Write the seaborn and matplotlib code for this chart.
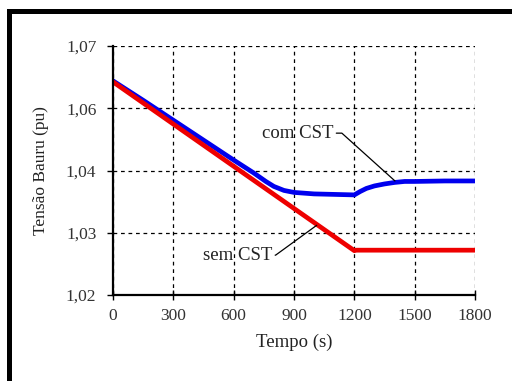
import numpy as np
import pandas as pd
import seaborn as sns
import matplotlib.pyplot as plt
from matplotlib.patches import Rectangle

# values
t_com = [0, 150, 300, 450, 600, 700, 760, 800, 850, 900, 1000, 1100, 1200,
         1230, 1260, 1300, 1350, 1400, 1450, 1500, 1650, 1800]
v_com = [1.0630, 1.0591, 1.0551, 1.0511, 1.0471, 1.0445, 1.0428, 1.0418, 1.0410,
         1.0406, 1.0403, 1.0402, 1.0401, 1.0408, 1.0414, 1.0419, 1.0423, 1.0426,
         1.0428, 1.0428, 1.0429, 1.0429]
t_sem = [0, 1200, 1210, 1800]
v_sem = [1.0628, 1.0289, 1.0290, 1.0290]

x_ticks = [0, 300, 600, 900, 1200, 1500, 1800]
y_tick_labels = ["1,02", "1,03", "1,04", "1,06", "1,07"]

df = pd.concat([
    pd.DataFrame({"t": t_com, "v": v_com, "caso": "com CST"}),
    pd.DataFrame({"t": t_sem, "v": v_sem, "caso": "sem CST"}),
])

sns.set_theme(style="ticks")
plt.rcParams["font.family"] = ["Liberation Serif", "DejaVu Serif"]
plt.rcParams["font.size"] = 12

fig = plt.figure(figsize=(5.12, 3.81), dpi=100)
ax = fig.add_axes([113 / 512, 1 - 295 / 381, 362 / 512, 249 / 381])

sns.lineplot(data=df, x="t", y="v", hue="caso",
             palette={"com CST": "#0000ee", "sem CST": "#ee0000"},
             linewidth=3.4, legend=False, ax=ax, estimator=None, sort=False)

ax.set_xlim(0, 1800)
ax.set_ylim(1.02, 1.07)
ax.set_xticks(x_ticks)
yt = np.linspace(1.02, 1.07, len(y_tick_labels))
ax.set_yticks(yt)
ax.set_yticklabels(y_tick_labels)

ax.grid(True, color="black", linestyle=(0, (3, 3)), linewidth=0.9)
for s in ["top", "right"]:
    ax.spines[s].set_visible(False)
for s in ["left", "bottom"]:
    ax.spines[s].set_color("black")
    ax.spines[s].set_linewidth(1.6)
ax.tick_params(axis="x", direction="inout", length=7, width=1, colors="black",
               labelsize=12.5, pad=6, labelcolor="#333333")
ax.tick_params(axis="y", direction="out", length=4, width=1, colors="black",
               labelsize=12.5, pad=8, labelcolor="#333333")

ax.set_xlabel("Tempo (s)", fontsize=13.5, color="#222222", labelpad=7)
ax.set_ylabel("Tensão Bauru (pu)", fontsize=12.5, color="#222222", labelpad=12)

arrow = dict(arrowstyle="-", color="black", lw=0.9, shrinkA=0, shrinkB=0)
ax.annotate("com CST", xy=(1402, 1.0429), xytext=(1094, 1.0525),
            ha="right", va="center", fontsize=13.5, color="#222222",
            arrowprops=dict(arrow, connectionstyle="angle,angleA=0,angleB=-42,rad=0"))
ax.annotate("sem CST", xy=(1013, 1.0340), xytext=(790, 1.0280),
            ha="right", va="center", fontsize=13.5, color="#222222",
            arrowprops=dict(arrow, connectionstyle="angle,angleA=0,angleB=36,rad=0"))

# black frame pieces at the left and top of the picture
fig.add_artist(Rectangle((7 / 512, 0), 5 / 512, 1 - 9 / 381,
                         transform=fig.transFigure, color="black", lw=0))
fig.add_artist(Rectangle((7 / 512, 1 - 14 / 381), 1, 5 / 381,
                         transform=fig.transFigure, color="black", lw=0))

fig.savefig("out.png", dpi=100)
